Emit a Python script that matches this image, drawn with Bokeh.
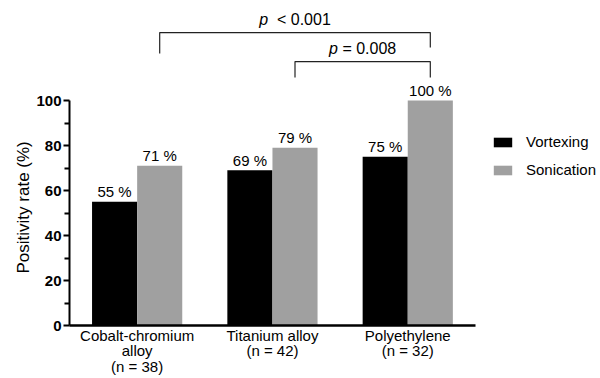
import math
from bokeh.plotting import figure
from bokeh.models import Range1d, FixedTicker, Label, Legend, LegendItem, ColumnDataSource, Title
from bokeh.core.properties import value
from bokeh.embed import file_html
from bokeh.resources import INLINE

# ---------------- data ----------------
cat_lines = [["Cobalt-chromium", "alloy"], ["Titanium alloy"], ["Polyethylene"]]
n_values = [38, 42, 32]
vortexing = [55, 69, 75]
sonication = [71, 79, 100]
series_names = ["Vortexing", "Sonication"]
y_ticks = [0, 20, 40, 60, 80, 100]
y_minor_ticks = [10, 30, 50, 70, 90]
y_title = "Positivity rate (%)"
# comparisons
comp_from = [0, 1]
comp_to = [2, 2]
comp_op = ["<", "="]
comp_p = ["0.001", "0.008"]
comp_gap = [2, 1]                 # spaces after italic p
bracket_top = [130.2, 117.3]
bracket_left_drop = [120.9, 110.2]
bracket_right_drop = [123.6, 110.2]

FONT = "Liberation Sans"
BLACK = "#000000"
GRAY = "#a0a0a0"
FS = 15
BAR_W = 1 / 3
PX_PER_X = 135.3

# approx Arial advance widths (em)
W = {c: 0.556 for c in "0123456789pn"}
W.update({".": 0.278, " ": 0.278, "<": 0.584, "=": 0.584, "(": 0.333, ")": 0.333})


def tw(s, size=FS):
    return sum(W.get(c, 0.556) for c in s) * size


p = figure(width=600, height=378, x_range=Range1d(0.5, 0.5 + 531 / PX_PER_X),
           y_range=Range1d(0, 325 / 2.25),
           min_border_left=69, min_border_right=0, min_border_top=0, min_border_bottom=53,
           toolbar_location=None, output_backend="svg", outline_line_color=None)
p.xgrid.visible = False
p.ygrid.visible = False

centers = [i + 1 for i in range(len(vortexing))]
src = ColumnDataSource(dict(
    xv=[c - BAR_W / 2 for c in centers], xs=[c + BAR_W / 2 for c in centers],
    v=vortexing, s=sonication,
    tv=[f"{v} %" for v in vortexing], ts=[f"{v} %" for v in sonication]))

r1 = p.vbar(x="xv", top="v", width=BAR_W, source=src, fill_color=BLACK, line_color=None)
r2 = p.vbar(x="xs", top="s", width=BAR_W, source=src, fill_color=GRAY, line_color=None)

for xcol, ycol, tcol in (("xv", "v", "tv"), ("xs", "s", "ts")):
    p.text(x=xcol, y=ycol, text=tcol, source=src, text_align="center", text_baseline="middle",
           y_offset=-10, text_font=value(FONT), text_font_size=f"{FS}px", text_color=BLACK)

# y axis
ya = p.yaxis[0]
ya.ticker = FixedTicker(ticks=y_ticks, minor_ticks=y_minor_ticks)
ya.bounds = (0, 100)
ya.axis_line_width = 2
ya.major_tick_line_width = 2
ya.minor_tick_line_width = 2
ya.major_tick_in = 0
ya.major_tick_out = 6
ya.minor_tick_in = 0
ya.minor_tick_out = 5
ya.major_label_standoff = 2
ya.major_label_text_font = FONT
ya.major_label_text_font_style = "bold"
ya.major_label_text_font_size = f"{FS}px"
ya.major_label_text_color = BLACK

# x axis with multi-line category labels
xa = p.xaxis[0]
xa.ticker = FixedTicker(ticks=centers)
xa.major_label_overrides = {c: "\n".join(cat_lines[i] + [f"(n = {n_values[i]})"])
                            for i, c in enumerate(centers)}
xa.bounds = (0.5, 3.5)
xa.axis_line_width = 2.5
xa.major_tick_in = 0
xa.major_tick_out = 0
xa.minor_tick_in = 0
xa.minor_tick_out = 0
xa.major_label_standoff = 1
xa.major_label_text_font = FONT
xa.major_label_text_font_size = f"{FS}px"
xa.major_label_text_line_height = 0.93
xa.major_label_text_color = BLACK

# y axis title as a side title, placed along the 0-100 span
p.add_layout(Title(text=y_title, align="left", offset=52, standoff=2,
                   text_font=FONT, text_font_style="normal", text_font_size="17px",
                   text_color=BLACK), "left")


def rich_label(x, y, parts, y_offset=0, size=FS):
    """parts: list of (text, style); placed side by side, centered at x."""
    total = sum(tw(t, size) for t, _ in parts)
    off = -total / 2
    for t, style in parts:
        lead = len(t) - len(t.lstrip(" "))
        off += tw(" " * lead, size)
        body = t.lstrip(" ")
        p.add_layout(Label(x=x, y=y, x_offset=off, y_offset=y_offset, text=body,
                           text_align="left", text_baseline="middle",
                           text_font=FONT, text_font_style=style,
                           text_font_size=f"{size}px", text_color=BLACK))
        off += tw(body, size)


# significance brackets
for k in range(len(comp_from)):
    xa_ = centers[comp_from[k]] + BAR_W / 2
    xb_ = centers[comp_to[k]] + BAR_W / 2
    p.line(x=[xa_, xa_, xb_, xb_],
           y=[bracket_left_drop[k], bracket_top[k], bracket_top[k], bracket_right_drop[k]],
           line_color="#222222", line_width=1.2)
    rich_label((xa_ + xb_) / 2, bracket_top[k],
               [("p", "italic"), (" " * comp_gap[k] + f"{comp_op[k]} {comp_p[k]}", "normal")],
               y_offset=13, size=16)

legend = Legend(items=[LegendItem(label=series_names[0], renderers=[r1]),
                       LegendItem(label=series_names[1], renderers=[r2])],
                location=(422, 147), glyph_width=23, glyph_height=12, label_standoff=12,
                spacing=11, padding=0, margin=0, border_line_color=None,
                background_fill_alpha=0, label_text_font=FONT, label_text_font_size=f"{FS}px",
                label_text_color=BLACK)
p.add_layout(legend)

open("out.html", "w").write(file_html(p, INLINE))
